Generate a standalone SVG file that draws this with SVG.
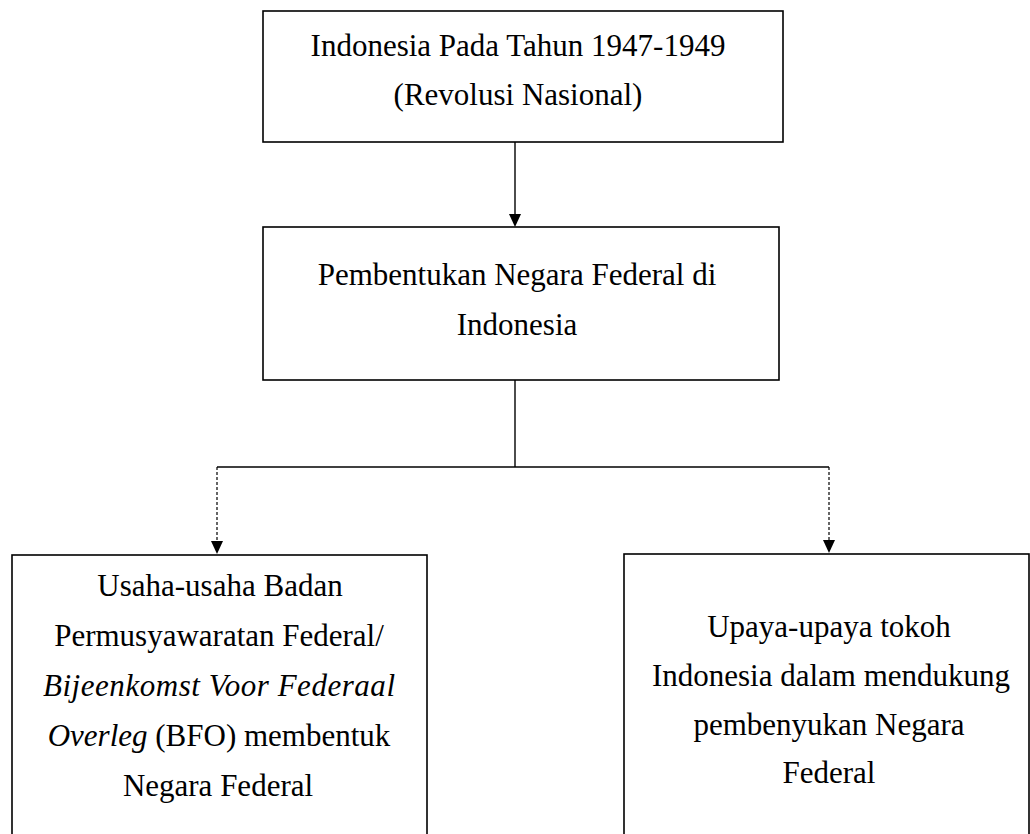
<svg xmlns="http://www.w3.org/2000/svg" width="1030" height="834" viewBox="0 0 1030 834">
<style>
.box{fill:#fff;stroke:#000;stroke-width:1.6}
.t{font-family:"Liberation Serif","Times New Roman",serif;font-size:31px;fill:#000;text-anchor:middle}
.i{font-style:italic}
.ln{stroke:#000;stroke-width:1.4;fill:none}
.dash{stroke:#000;stroke-width:1.2;stroke-dasharray:3 2;fill:none}
</style>
<defs>
<marker id="ah" markerWidth="12" markerHeight="13" refX="6" refY="13" orient="auto-start-reverse" markerUnits="userSpaceOnUse" viewBox="0 0 12 13">
<path d="M0,0 L12,0 L6,13 Z" fill="#000"/>
</marker>
</defs>
<rect width="1030" height="834" fill="#fff"/>
<g id="connectors">
<line class="ln" x1="515" y1="142" x2="515" y2="214"/>
<path d="M509,214 L521,214 L515,227 Z" fill="#000"/>
<line class="ln" x1="515" y1="380" x2="515" y2="467"/>
<line class="ln" x1="217" y1="467" x2="829" y2="467"/>
<line class="dash" x1="217" y1="467" x2="217" y2="541"/>
<path d="M211,541 L223,541 L217,554 Z" fill="#000"/>
<line class="dash" x1="829" y1="467" x2="829" y2="540"/>
<path d="M823,540 L835,540 L829,553 Z" fill="#000"/>
</g>
<g id="node-top">
<rect class="box" x="263" y="11" width="520" height="131"/>
<text class="t" x="518" y="56">Indonesia Pada Tahun 1947-1949</text>
<text class="t" x="518" y="105">(Revolusi Nasional)</text>
</g>
<g id="node-middle">
<rect class="box" x="263" y="227" width="516" height="153"/>
<text class="t" x="517" y="285">Pembentukan Negara Federal di</text>
<text class="t" x="517" y="335">Indonesia</text>
</g>
<g id="node-left">
<rect class="box" x="12" y="555" width="415" height="300"/>
<text class="t" x="220" y="596">Usaha-usaha Badan</text>
<text class="t" x="219" y="646">Permusyawaratan Federal/</text>
<text class="t i" x="219" y="696" textLength="352">Bijeenkomst Voor Federaal</text>
<text class="t" x="219" y="746"><tspan class="i">Overleg</tspan> (BFO) membentuk</text>
<text class="t" x="218" y="796">Negara Federal</text>
</g>
<g id="node-right">
<rect class="box" x="624" y="554" width="405" height="300"/>
<text class="t" x="829" y="637">Upaya-upaya tokoh</text>
<text class="t" x="831" y="686">Indonesia dalam mendukung</text>
<text class="t" x="829" y="735">pembenyukan Negara</text>
<text class="t" x="829" y="783">Federal</text>
</g>
</svg>
